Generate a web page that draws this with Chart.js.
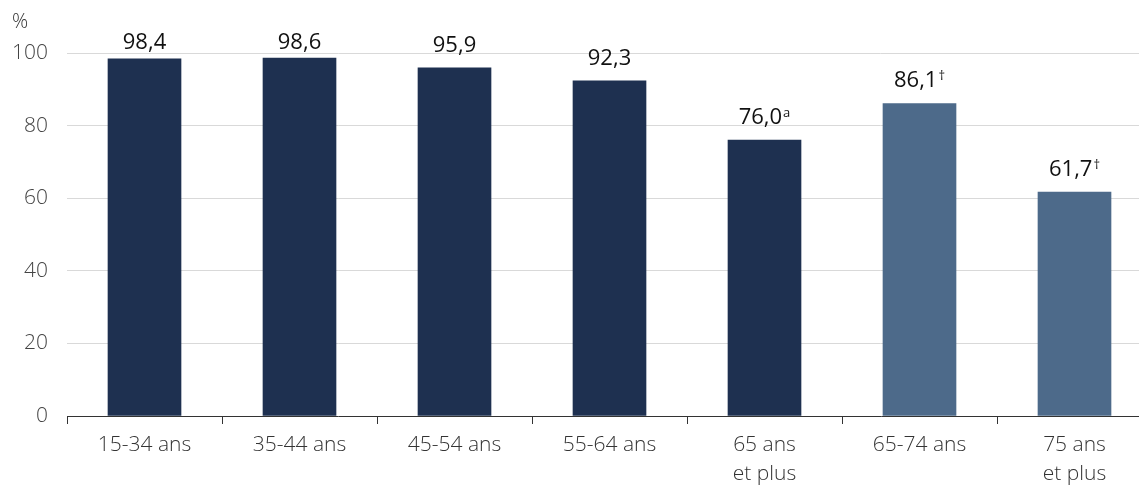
<!DOCTYPE html>
<html>
<head>
<meta charset="utf-8">
<script src="https://cdn.jsdelivr.net/npm/chart.js@4"></script>
<style>
  html, body { margin: 0; padding: 0; background: #fff; overflow: hidden; }
  #wrap { width: 1160px; height: 489px; position: relative; }
</style>
</head>
<body>
<div id="wrap"><canvas id="c"></canvas></div>
<script>
const categories = [["15-34 ans"], ["35-44 ans"], ["45-54 ans"], ["55-64 ans"], ["65 ans", "et plus"], ["65-74 ans"], ["75 ans", "et plus"]];
const values = [98.4, 98.6, 95.9, 92.3, 76.0, 86.1, 61.7];
const valueLabels = ["98,4", "98,6", "95,9", "92,3", "76,0", "86,1", "61,7"];
const superscripts = ["", "", "", "", "a", "†", "†"];
const barColors = ["#1e3050", "#1e3050", "#1e3050", "#1e3050", "#1e3050", "#4d6a8a", "#4d6a8a"];
const yTicks = [0, 20, 40, 60, 80, 100];
const unitLabel = "%";

const FONT = "'Open Sans', sans-serif";

const labelPlugin = {
  id: 'valueLabels',
  afterDatasetsDraw(chart) {
    const ctx = chart.ctx;
    const meta = chart.getDatasetMeta(0);
    ctx.save();
    meta.data.forEach((bar, i) => {
      const main = valueLabels[i];
      const sup = superscripts[i];
      ctx.font = "22px " + FONT;
      const wMain = ctx.measureText(main).width;
      ctx.font = "13px " + FONT;
      const wSup = sup ? ctx.measureText(sup).width + 1 : 0;
      const total = wMain + wSup;
      const x0 = bar.x - total / 2;
      const yb = Math.max(bar.y - 16, 49);
      ctx.fillStyle = "#111";
      ctx.textAlign = "left";
      ctx.textBaseline = "alphabetic";
      ctx.font = "22px " + FONT;
      ctx.fillText(main, x0, yb);
      if (sup) {
        ctx.font = "13px " + FONT;
        ctx.fillText(sup, x0 + wMain + 1, yb - 7);
      }
    });
    ctx.font = "300 20px " + FONT;
    ctx.fillStyle = "#333";
    ctx.textAlign = "left";
    ctx.textBaseline = "middle";
    ctx.fillText(unitLabel, 12, 22);
    ctx.restore();
  }
};

new Chart(document.getElementById('c'), {
  type: 'bar',
  data: {
    labels: categories,
    datasets: [{
      data: values,
      backgroundColor: barColors,
      barThickness: 73,
      borderWidth: 0
    }]
  },
  options: {
    responsive: true,
    maintainAspectRatio: false,
    animation: false,
    layout: { padding: { top: 53, right: 8, left: 0, bottom: 0 } },
    plugins: { legend: { display: false }, tooltip: { enabled: false } },
    scales: {
      x: {
        grid: { display: true, drawOnChartArea: false, drawTicks: true, tickLength: 8, color: "#333", offset: true },
        border: { display: true, color: "#333", width: 1 },
        ticks: { font: { family: FONT, size: 21, weight: 300, lineHeight: 1.4 }, color: "#333", padding: 6, maxRotation: 0, autoSkip: false },
        afterFit(scale) { scale.height = 73; }
      },
      y: {
        min: 0, max: 100,
        afterBuildTicks(scale) { scale.ticks = yTicks.map(v => ({ value: v })); },
        grid: { color: "#d9d9d9", drawTicks: false, lineWidth: 1 },
        border: { display: false },
        ticks: { font: { family: FONT, size: 21, weight: 300 }, color: "#444", padding: 19 },
        afterFit(scale) { scale.width = 67; }
      }
    }
  },
  plugins: [labelPlugin]
});
</script>
</body>
</html>
